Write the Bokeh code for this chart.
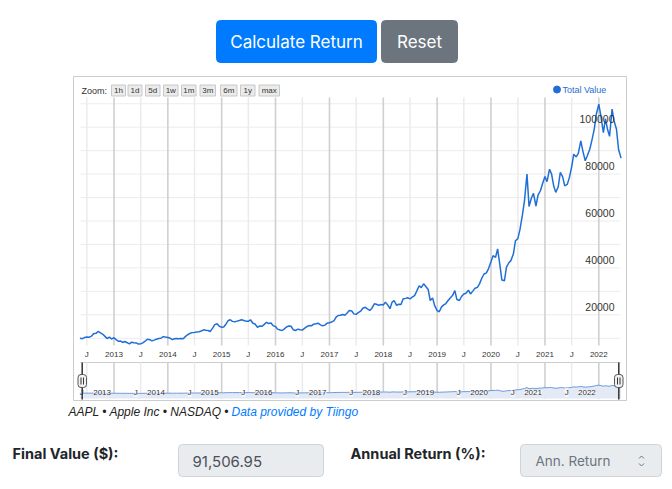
import pandas as pd
from bokeh.plotting import figure
from bokeh.models import Range1d, ColumnDataSource
from bokeh.core.properties import value
from bokeh.embed import file_html
from bokeh.resources import INLINE

# ---------------- data ----------------
values_2012 = [10000, 9800, 10300, 10500, 10400, 10900, 11900, 12100, 12900, 12300, 11800, 10800, 9900, 10500, 9700]
values_2013 = [10200, 9400, 8700, 8800, 8200, 8600, 8100, 7600, 8300, 8100, 8000, 7500,
               7600, 8000, 8800, 9600, 9400, 8900, 9200, 9600, 9900, 10000, 10700, 10500]
values_2014 = [10300, 10100, 9400, 9800, 9900, 9800, 9900, 9800, 10800, 11500, 12100, 12400,
               12500, 12700, 12800, 13100, 13600, 13400, 13300, 12900, 14300, 15800, 16200, 15200]
values_2015 = [14700, 14800, 16200, 17600, 17900, 17200, 17000, 17300, 17600, 17900, 17600, 17300,
               17200, 17900, 16400, 16100, 14700, 15200, 15100, 15800, 16800, 16300, 16500, 15400]
values_2016 = [15000, 13900, 13500, 13300, 14000, 14800, 15200, 15100, 13600, 13300, 13900, 13600,
               13500, 14200, 15000, 15400, 15300, 16000, 16200, 16400, 15700, 15300, 15600, 16400]
values_2017 = [16600, 16900, 17500, 19000, 19700, 19800, 20100, 19800, 20800, 21800, 21600, 20400,
               20200, 20900, 21600, 22800, 23200, 22500, 21900, 22700, 24700, 24500, 24000, 24400]
values_2018 = [24200, 25400, 24100, 22600, 25300, 26100, 24000, 24500, 24400, 26700, 27000, 27300,
               26800, 27500, 28200, 30000, 32400, 31600, 33200, 32200, 30800, 26100, 27200, 23900]
values_2019 = [21800, 21300, 23500, 24200, 24800, 26000, 27300, 28200, 30300, 26500, 26100, 27800,
               28900, 29200, 30500, 28900, 30200, 31300, 31700, 33200, 35800, 37400, 37900, 39600]
values_2020 = [42600, 45200, 44500, 48100, 41400, 34800, 34500, 40300, 42200, 43100, 46000, 51600,
               52500, 56200, 62500, 68600, 80000, 66200, 69800, 71800, 66400, 71000, 72900, 75800]
values_2021 = [79000, 76800, 82100, 80000, 75000, 72200, 74600, 80700, 78800, 75000, 75600, 78400,
               83100, 88500, 87300, 88800, 94200, 89800, 85700, 87800, 90600, 94400, 99100, 105500]
values_2022 = [109800, 104800, 97700, 103600, 99100, 96100, 107700, 102500, 99100, 90500, 86800]

total_value = (values_2012 + values_2013 + values_2014 + values_2015 + values_2016 + values_2017
               + values_2018 + values_2019 + values_2020 + values_2021 + values_2022)
dates = pd.date_range("2012-05-15", "2022-06-01", freq="SMS")
assert len(dates) == len(total_value)

year_ticks = pd.to_datetime([f"{y}-01-01" for y in range(2013, 2023)])
year_labels = [str(y) for y in range(2013, 2023)]
july_ticks = pd.to_datetime([f"{y}-07-01" for y in range(2012, 2022)])
july_labels = ["J"] * len(july_ticks)
y_grid_values = [10000, 20000, 30000, 40000, 50000, 60000, 70000, 80000, 90000, 100000, 110000]
y_tick_values = [20000, 40000, 60000, 80000, 100000]
y_tick_labels = ["20000", "40000", "60000", "80000", "100000"]
zoom_labels = ["1h", "1d", "5d", "1w", "1m", "3m", "6m", "1y", "max"]
series_name = "Total Value"
credits_left = "AAPL \u2022 Apple Inc \u2022 NASDAQ \u2022 "
credits_link = "Data provided by Tiingo"
final_value_text = "91,506.95"
annual_return_placeholder = "Ann. Return"

# ---------------- page geometry (pixel space of the page) ----------------
W, H = 664, 481
PLOT_L, PLOT_R, PLOT_T, PLOT_B = 80, 620, 97, 345
NAV_T, NAV_B = 362, 398

def ms(d):
    return pd.Timestamp(d).value / 1e6

# date scale anchors (tick positions measured on page)
ta, pxa = ms("2013-01-01"), 113.5
tb, pxb = ms("2022-01-01"), 598.3
kx = (pxb - pxa) / (tb - ta)

def v_at(py):  # main value scale
    return 20000 + (314.3 - py) * (10000 / 23.45)

def n_at(py):  # navigator value scale
    return 10000 + (392.7 - py) * (90000 / 7.2)

p = figure(width=W, height=H, output_backend="svg", toolbar_location=None,
           x_range=Range1d(0, W), y_range=Range1d(H, 0),
           x_axis_location=None, y_axis_location=None,
           min_border=0, outline_line_color=None, background_fill_color="white")
p.xgrid.visible = False
p.ygrid.visible = False
p.extra_x_ranges = {"date": Range1d(ta + (0 - pxa) / kx, ta + (W - pxa) / kx)}
p.extra_y_ranges = {"val": Range1d(v_at(H), v_at(0)), "nav": Range1d(n_at(H), n_at(0))}

UI = value("Inter")
HC = value("Liberation Sans")

# ---------------- buttons ----------------
p.quad(left=[216, 381], right=[376, 457], top=[20, 20], bottom=[62, 62],
       fill_color=["#007bff", "#6c757d"], line_color=["#007bff", "#6c757d"], border_radius=4)
p.text(x=[296, 419], y=[41.5, 41.5], text=["Calculate Return", "Reset"], text_font=UI,
       text_font_size="17px", text_color="white", text_align="center", text_baseline="middle")

# ---------------- chart container ----------------
p.quad(left=73, right=626, top=76, bottom=400, fill_color=None, line_color="#cccccc", line_width=1)

# zoom row
p.text(x=[81], y=[90], text=["Zoom:"], text_font=HC, text_font_size="9px", text_color="#333333",
       text_baseline="middle")
zx0 = [111, 127.5, 145, 163, 181, 199.5, 220, 240, 258.5]
zx1 = [125, 141.5, 159.5, 177.5, 195.5, 215, 236.5, 254.5, 279]
p.quad(left=zx0, right=zx1, top=[84.5] * 9, bottom=[95.5] * 9, fill_color="#ebebeb", line_color="#c8c8c8")
p.text(x=[(a + b) / 2 for a, b in zip(zx0, zx1)], y=[90.2] * 9, text=zoom_labels, text_font=HC,
       text_font_size="8px", text_color="#333333", text_align="center", text_baseline="middle")

# legend
p.scatter(x=[556.5], y=[89], size=7, fill_color="#1f6fd6", line_color="#1f6fd6")
p.text(x=[562], y=[89], text=[series_name], text_font=HC, text_font_size="9px", text_color="#2a6fd0",
       text_baseline="middle")

# grid lines
p.segment(x0=PLOT_L, x1=PLOT_R, y0=y_grid_values, y1=y_grid_values, y_range_name="val",
          line_color="#ececec", line_width=1)
jsrc = ColumnDataSource(dict(x=july_ticks, t=july_labels))
ysrc = ColumnDataSource(dict(x=year_ticks, t=year_labels))
p.segment(x0="x", x1="x", y0=PLOT_T, y1=PLOT_B, source=jsrc, x_range_name="date",
          line_color="#ebebeb", line_width=1.5)
p.segment(x0="x", x1="x", y0=PLOT_T, y1=PLOT_B, source=ysrc, x_range_name="date",
          line_color="#d0d0d0", line_width=1.6)

# main series
src = ColumnDataSource(dict(date=dates, v=total_value))
p.line(x="date", y="v", source=src, x_range_name="date", y_range_name="val",
       line_color="#1f6fd6", line_width=1.5)

# y labels (inside, right)
p.text(x=614, y=y_tick_values, text=y_tick_labels, y_range_name="val", y_offset=-8,
       text_font=HC, text_font_size="10.5px", text_color="#333333", text_align="right",
       text_baseline="middle")

# x labels
p.text(x="x", y=354, text="t", source=jsrc, x_range_name="date", text_font=HC, text_font_size="8px",
       text_color="#333333", text_align="center", text_baseline="middle")
p.text(x="x", y=354, text="t", source=ysrc, x_range_name="date", text_font=HC, text_font_size="8px",
       text_color="#333333", text_align="center", text_baseline="middle")

# ---------------- navigator ----------------
p.segment(x0=PLOT_L, x1=PLOT_R, y0=NAV_T, y1=NAV_T, line_color="#cccccc", line_width=1)
p.segment(x0="x", x1="x", y0=NAV_T, y1=NAV_B, source=jsrc, x_range_name="date",
          line_color="#ebebeb", line_width=1.5)
p.segment(x0="x", x1="x", y0=NAV_T, y1=NAV_B, source=ysrc, x_range_name="date",
          line_color="#d0d0d0", line_width=1.6)
p.varea(x="date", y1=n_at(NAV_B), y2="v", source=src, x_range_name="date", y_range_name="nav",
        fill_color="#e3eaf6")
p.line(x="date", y="v", source=src, x_range_name="date", y_range_name="nav",
       line_color="#6a98dc", line_width=1)
for s in (jsrc, ysrc):
    p.text(x="x", y=392, text="t", source=s, x_range_name="date", x_offset=-3, text_font=HC,
           text_font_size="8px", text_color="#333333", text_align="right", text_baseline="middle",
           background_fill_color="white", background_fill_alpha=0.6)
# handles
p.segment(x0=[81.7, 618.3], x1=[81.7, 618.3], y0=[NAV_T, NAV_T], y1=[NAV_B + 1, NAV_B + 1],
          line_color="#333333", line_width=1.5)
p.quad(left=[77.5, 614], right=[86, 622.5], top=[374, 374], bottom=[387, 387],
       fill_color="#f2f2f2", line_color="#555555", border_radius=3)
p.segment(x0=[80.5, 83, 617, 619.5], x1=[80.5, 83, 617, 619.5], y0=[377] * 4, y1=[384] * 4,
          line_color="#333333", line_width=1)

# credits
p.text(x=[68], y=[411], text=[credits_left], text_font=HC, text_font_size="12px", text_font_style="italic",
       text_color="#222222", text_baseline="middle")
p.text(x=[231], y=[411], text=[credits_link], text_font=HC, text_font_size="12px", text_font_style="italic",
       text_color="#007bff", text_baseline="middle")

# ---------------- form row ----------------
p.text(x=[12, 350], y=[453, 453], text=["Final Value ($):", "Annual Return (%):"], text_font=UI,
       text_font_size="14.5px", text_font_style="bold", text_color="#212529", text_baseline="middle")
p.quad(left=[178, 520], right=[323, 661], top=[444, 444], bottom=[476, 476],
       fill_color="#e9ecef", line_color="#ced4da", border_radius=4)
p.text(x=[192], y=[460.5], text=[final_value_text], text_font=UI, text_font_size="15px",
       text_color="#495057", text_baseline="middle")
p.text(x=[535], y=[460.5], text=[annual_return_placeholder], text_font=UI, text_font_size="13.5px",
       text_color="#6c757d", text_baseline="middle")
p.multi_line(xs=[[638.5, 641, 643.5], [638.5, 641, 643.5]], ys=[[458, 455.5, 458], [463, 465.5, 463]],
             line_color="#6c757d", line_width=1)

open("out.html", "w").write(file_html(p, INLINE))
